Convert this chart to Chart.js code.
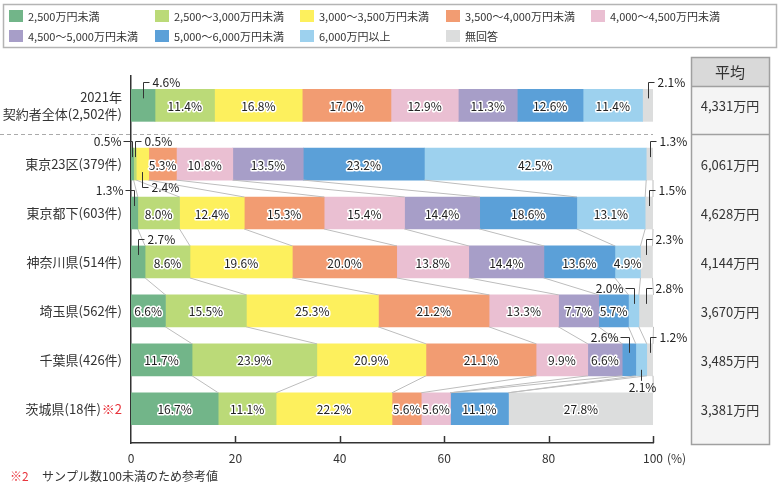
<!DOCTYPE html>
<html lang="ja">
<head>
<meta charset="UTF-8">
<title>世帯年収別 契約者構成比</title>
<script src="https://cdn.jsdelivr.net/npm/chart.js"></script>
<style>
  body { margin: 0; background: #fff; }
  #wrap { width: 780px; height: 490px; }
</style>
</head>
<body>
<div id="wrap"><canvas id="incomeChart" width="780" height="490"></canvas></div>
<script>
// rows (categories)
const rowLabels = [
  ['2021年', '契約者全体(2,502件)'],
  ['東京23区(379件)'],
  ['東京都下(603件)'],
  ['神奈川県(514件)'],
  ['埼玉県(562件)'],
  ['千葉県(426件)'],
  ['茨城県(18件)']
];
const noteRows = [6]; // rows marked ※2
const rowPos = [0, 1.2, 2.2, 3.2, 4.2, 5.2, 6.2]; // first row is set apart by the dashed line

// series names
const seriesNames = [
  '2,500万円未満', '2,500～3,000万円未満', '3,000～3,500万円未満', '3,500～4,000万円未満',
  '4,000～4,500万円未満', '4,500～5,000万円未満', '5,000～6,000万円未満', '6,000万円以上', '無回答'
];

// values (%) per series, one per row
const under2500  = [4.6, 0.5, 1.3, 2.7, 6.6, 11.7, 16.7];
const r2500_3000 = [11.4, 0.5, 8.0, 8.6, 15.5, 23.9, 11.1];
const r3000_3500 = [16.8, 2.4, 12.4, 19.6, 25.3, 20.9, 22.2];
const r3500_4000 = [17.0, 5.3, 15.3, 20.0, 21.2, 21.1, 5.6];
const r4000_4500 = [12.9, 10.8, 15.4, 13.8, 13.3, 9.9, 5.6];
const r4500_5000 = [11.3, 13.5, 14.4, 14.4, 7.7, 6.6, 0];
const r5000_6000 = [12.6, 23.2, 18.6, 13.6, 5.7, 2.6, 11.1];
const over6000   = [11.4, 42.5, 13.1, 4.9, 2.0, 2.1, 0];
const noAnswer   = [2.1, 1.3, 1.5, 2.3, 2.8, 1.2, 27.8];

// average income per row (万円)
const averages = [4331, 6061, 4628, 4144, 3670, 3485, 3381];

// x axis ticks
const xTicks = [0, 20, 40, 60, 80, 100];

const seriesValues = [under2500, r2500_3000, r3000_3500, r3500_4000, r4000_4500, r4500_5000, r5000_6000, over6000, noAnswer];
const colors = ['#72b589', '#bbda78', '#fdf05d', '#f29c72', '#eabfd2', '#a79ec8', '#5ba0d8', '#9dd1ee', '#dcdddd'];

// small values labelled outside the bar with a leader line
const callouts = [
  {row: 0, set: 0, dir: 'ur'}, {row: 0, set: 8, dir: 'ur'},
  {row: 1, set: 0, dir: 'ul'}, {row: 1, set: 1, dir: 'ur'}, {row: 1, set: 2, dir: 'dr'}, {row: 1, set: 8, dir: 'ur'},
  {row: 2, set: 0, dir: 'ul'}, {row: 2, set: 8, dir: 'ur'},
  {row: 3, set: 0, dir: 'ur'}, {row: 3, set: 8, dir: 'ur'},
  {row: 4, set: 7, dir: 'ul'}, {row: 4, set: 8, dir: 'ur'},
  {row: 5, set: 6, dir: 'ul'}, {row: 5, set: 7, dir: 'd'}, {row: 5, set: 8, dir: 'ur'}
];

const FONT = '"Noto Sans CJK JP", "Noto Sans", sans-serif';
const TEXT = '#333';

const pct = v => v.toFixed(1) + '%';

const extrasPlugin = {
  id: 'extras',
  afterDatasetsDraw(chart) {
    const ctx = chart.ctx;
    const xs = chart.scales.x;
    const bars = chart.data.datasets.map((d, i) => chart.getDatasetMeta(i).data);

    ctx.save();
    // connector lines between rows (not between the total and the regions)
    ctx.strokeStyle = '#bdbdbd';
    ctx.lineWidth = 1;
    for (let r = 1; r < rowPos.length - 1; r++) {
      for (let d = 0; d < bars.length; d++) {
        const a = bars[d][r], b = bars[d][r + 1];
        ctx.beginPath();
        ctx.moveTo(a.x, a.y + a.height / 2);
        ctx.lineTo(b.x, b.y - b.height / 2);
        ctx.stroke();
      }
    }

    // dashed separator below the total row
    const sepY = Math.round((bars[0][0].y + bars[0][1].y) / 2 - 1) + 0.5;
    ctx.setLineDash([4, 3]);
    ctx.strokeStyle = '#aaa';
    ctx.beginPath();
    ctx.moveTo(0, sepY);
    ctx.lineTo(xs.getPixelForValue(100), sepY);
    ctx.stroke();
    ctx.setLineDash([]);

    // labels inside bars
    ctx.font = '12px ' + FONT;
    ctx.textAlign = 'center';
    ctx.textBaseline = 'middle';
    ctx.lineJoin = 'round';
    const isCallout = (r, d) => callouts.some(c => c.row === r && c.set === d);
    for (let d = 0; d < bars.length; d++) {
      bars[d].forEach((el, r) => {
        const v = seriesValues[d][r];
        if (!v || isCallout(r, d)) return;
        const cx = (el.x + el.base) / 2;
        ctx.strokeStyle = '#fff';
        ctx.lineWidth = 3;
        ctx.strokeText(pct(v), cx, el.y + 1);
        ctx.fillStyle = '#222';
        ctx.fillText(pct(v), cx, el.y + 1);
      });
    }

    // callouts
    ctx.strokeStyle = '#333';
    ctx.lineWidth = 1;
    ctx.fillStyle = '#222';
    callouts.forEach(c => {
      const el = bars[c.set][c.row];
      const v = seriesValues[c.set][c.row];
      const cx = Math.round((el.x + el.base) / 2) + 0.5;
      const top = el.y - el.height / 2, bot = el.y + el.height / 2;
      ctx.beginPath();
      if (c.dir === 'ur' || c.dir === 'ul') {
        const ly = Math.round(top - 7) + 0.5;
        const hx = c.dir === 'ur' ? cx + 6 : cx - 9;
        ctx.moveTo(cx, top + 9);
        ctx.lineTo(cx, ly);
        ctx.lineTo(hx, ly);
        ctx.stroke();
        ctx.textAlign = c.dir === 'ur' ? 'left' : 'right';
        ctx.fillText(pct(v), c.dir === 'ur' ? hx + 3 : hx - 2, ly);
      } else if (c.dir === 'dr') {
        const ly = Math.round(bot + 7) + 0.5;
        ctx.moveTo(cx, bot - 8);
        ctx.lineTo(cx, ly);
        ctx.lineTo(cx + 6, ly);
        ctx.stroke();
        ctx.textAlign = 'left';
        ctx.fillText(pct(v), cx + 9, ly);
      } else {
        ctx.moveTo(cx, bot - 6);
        ctx.lineTo(cx, bot + 5);
        ctx.stroke();
        ctx.textAlign = 'center';
        ctx.fillText(pct(v), cx + 1, bot + 12);
      }
    });
    ctx.restore();
  },
  afterDraw(chart) {
    const ctx = chart.ctx;
    const xs = chart.scales.x, ys = chart.scales.y;
    const area = chart.chartArea;
    ctx.save();

    // tick marks inside the plot on the x axis
    ctx.strokeStyle = '#333';
    ctx.lineWidth = 1.5;
    xTicks.slice(1).forEach(t => {
      const x = Math.round(xs.getPixelForValue(t)) + 0.5;
      ctx.beginPath();
      ctx.moveTo(x, area.bottom - 7);
      ctx.lineTo(x, area.bottom);
      ctx.stroke();
    });
    ctx.font = '12px ' + FONT;
    ctx.fillStyle = TEXT;
    ctx.textAlign = 'left';
    ctx.textBaseline = 'middle';
    ctx.fillText('(%)', xs.getPixelForValue(100) + 14, 458);

    // row labels
    ctx.font = '13px ' + FONT;
    ctx.textAlign = 'right';
    const labelRight = area.left - 9;
    rowLabels.forEach((lines, r) => {
      const y = ys.getPixelForValue(rowPos[r]);
      let right = labelRight;
      if (noteRows.includes(r)) {
        ctx.fillStyle = '#e8343c';
        ctx.fillText('※2', right, y);
        right -= ctx.measureText('※2').width + 1;
      }
      ctx.fillStyle = TEXT;
      const lh = 17;
      lines.forEach((t, i) => {
        ctx.fillText(t, right, y + (i - (lines.length - 1) / 2) * lh);
      });
    });

    // legend
    ctx.font = '11px ' + FONT;
    ctx.lineWidth = 1.5;
    ctx.strokeStyle = '#b4b4b4';
    ctx.strokeRect(3.5, 4.5, 773, 43);
    const colX = [9, 155, 300, 446, 591];
    const rowY = [16, 36];
    ctx.textAlign = 'left';
    seriesNames.forEach((name, i) => {
      const x = colX[i % 5], y = rowY[Math.floor(i / 5)];
      ctx.fillStyle = colors[i];
      ctx.fillRect(x, y - 6, 14, 12);
      ctx.fillStyle = TEXT;
      ctx.fillText(name, x + 19, y + 1);
    });

    // average table
    const tx = 691, tw = 78, tTop = 57, hBot = 86, tBot = 444;
    ctx.fillStyle = '#f4f4f4';
    ctx.fillRect(tx, hBot, tw, tBot - hBot);
    ctx.fillStyle = '#d9d9d9';
    ctx.fillRect(tx, tTop, tw, hBot - tTop);
    ctx.strokeStyle = '#a0a0a0';
    ctx.lineWidth = 1.5;
    ctx.strokeRect(tx + 0.5, tTop + 0.5, tw, tBot - tTop);
    const sepY = Math.round((ys.getPixelForValue(rowPos[0]) + ys.getPixelForValue(rowPos[1])) / 2 - 1) + 0.5;
    [hBot + 0.5, sepY].forEach(y => {
      ctx.beginPath();
      ctx.moveTo(tx, y);
      ctx.lineTo(tx + tw, y);
      ctx.stroke();
    });
    ctx.textAlign = 'center';
    ctx.fillStyle = TEXT;
    ctx.font = '15px ' + FONT;
    ctx.fillText('平均', tx + tw / 2, (tTop + hBot) / 2 + 1);
    ctx.font = '13px ' + FONT;
    averages.forEach((v, r) => {
      ctx.fillText(v.toLocaleString('en-US') + '万円', tx + tw / 2, ys.getPixelForValue(rowPos[r]) + 1);
    });

    // footnote
    ctx.font = '12px ' + FONT;
    ctx.textAlign = 'left';
    ctx.fillStyle = '#e8343c';
    ctx.fillText('※2', 10, 476);
    ctx.fillStyle = TEXT;
    ctx.fillText('サンプル数100未満のため参考値', 42, 476);
    ctx.restore();
  }
};

const datasets = seriesNames.map((name, i) => ({
  label: name,
  data: seriesValues[i].map((v, r) => ({x: v, y: rowPos[r]})),
  backgroundColor: colors[i],
  borderWidth: 0,
  barThickness: 32
}));

const ctx = document.getElementById('incomeChart').getContext('2d');
new Chart(ctx, {
  type: 'bar',
  data: { datasets },
  plugins: [extrasPlugin],
  options: {
    indexAxis: 'y',
    responsive: false,
    animation: false,
    layout: { padding: { top: 76, right: 127, left: 0, bottom: 0 } },
    plugins: { legend: { display: false }, tooltip: { enabled: false } },
    scales: {
      x: {
        type: 'linear',
        stacked: true,
        min: 0,
        max: 100,
        afterBuildTicks: s => { s.ticks = xTicks.map(v => ({value: v})); },
        afterFit: s => { s.height = 47; },
        grid: { display: false, drawTicks: false },
        border: { display: true, color: '#333', width: 1.5 },
        ticks: { color: TEXT, padding: 8, font: { family: FONT, size: 12 } }
      },
      y: {
        type: 'linear',
        stacked: true,
        reverse: true,
        offset: false,
        min: -0.6,
        max: 6.9,
        afterFit: s => { s.width = 131; },
        grid: { display: false, drawTicks: false },
        border: { display: true, color: '#333', width: 1.5 },
        ticks: { display: false }
      }
    }
  }
});
</script>
</body>
</html>
